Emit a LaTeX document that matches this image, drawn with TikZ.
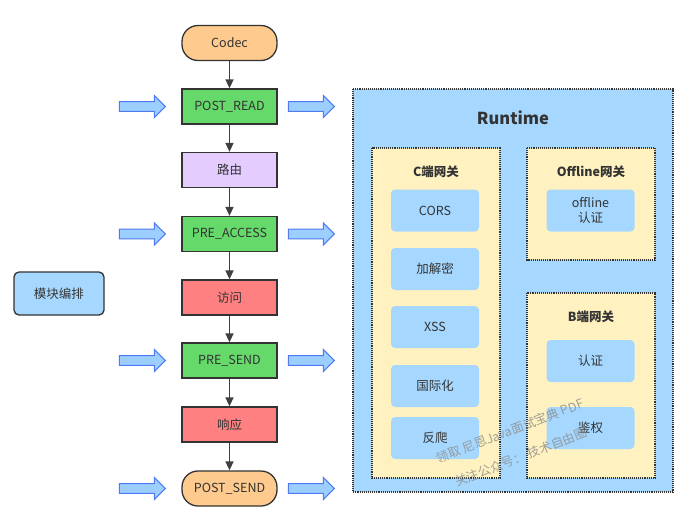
\documentclass[tikz,border=0pt]{standalone}
\usepackage{fontspec}
\setmainfont{Noto Sans CJK SC}
\usetikzlibrary{arrows.meta,shapes.arrows}
\definecolor{txt}{HTML}{333333}
\definecolor{edge}{HTML}{333333}
\definecolor{orng}{HTML}{FFCA8E}
\definecolor{grn}{HTML}{66D96B}
\definecolor{purp}{HTML}{E5CCFF}
\definecolor{redc}{HTML}{FF8080}
\definecolor{blu}{HTML}{A6D8FF}
\definecolor{yel}{HTML}{FFF2C0}
\definecolor{arrfill}{HTML}{9CCEFF}
\definecolor{arrdraw}{HTML}{4D7BF3}
\definecolor{conn}{HTML}{404040}
\tikzset{
  base/.style={font=\fontsize{12.5}{14}\selectfont, text=txt},
  flowbox/.style={base, draw=edge, line width=1.3pt, minimum width=95pt, minimum height=35pt, inner sep=0pt},
  pill/.style={flowbox, rounded corners=16pt, fill=orng},
  greenbox/.style={flowbox, fill=grn},
  purplebox/.style={flowbox, fill=purp},
  redbox/.style={flowbox, fill=redc},
  flowarrow/.style={draw=conn, line width=1.5pt, -{Triangle[length=9pt,width=8pt]}},
  blockarrow/.style={single arrow, draw=arrdraw, fill=arrfill, line width=1pt, minimum height=46pt, inner sep=4.3pt, single arrow head extend=6.3pt, single arrow tip angle=90},
  group/.style={draw=edge, densely dotted, line width=1.1pt},
  itembox/.style={base, fill=blu, rounded corners=4pt, minimum width=88pt, minimum height=42pt, inner sep=0pt, align=center, text=txt},
  gtitle/.style={font=\fontsize{12.5}{14}\selectfont\bfseries, text=txt},
  wm/.style={font=\fontsize{12.5}{14}\selectfont, text=black!45, opacity=0.8, rotate=21}
}
\begin{document}
\begin{tikzpicture}[x=1pt,y=-1pt]
\useasboundingbox (0,0) rectangle (683,520);
\fill[white] (0,0) rectangle (683,520);

% left module box
\node[base, draw=edge, line width=1.3pt, fill=blu, rounded corners=5pt, minimum width=90pt, minimum height=43pt] (mod) at (59,293.5) {模块编排};

% flow
\node[pill] (codec) at (229.5,43) {Codec};
\node[greenbox] (postread) at (229.5,106.5) {POST\_READ};
\node[purplebox] (route) at (229.5,170) {路由};
\node[greenbox] (preaccess) at (229.5,234) {PRE\_ACCESS};
\node[redbox] (access) at (229.5,297.5) {访问};
\node[greenbox] (presend) at (229.5,360.5) {PRE\_SEND};
\node[redbox] (resp) at (229.5,424.5) {响应};
\node[pill] (postsend) at (229.5,488.5) {POST\_SEND};

\draw[flowarrow] (codec) -- (postread);
\draw[flowarrow] (postread) -- (route);
\draw[flowarrow] (route) -- (preaccess);
\draw[flowarrow] (preaccess) -- (access);
\draw[flowarrow] (access) -- (presend);
\draw[flowarrow] (presend) -- (resp);
\draw[flowarrow] (resp) -- (postsend);

% block arrows
\foreach \n/\y in {a/106.5,b/234,c/360.5,d/488.5}{
  \node[blockarrow] (in\n) at (140,\y) {};
  \node[blockarrow] (out\n) at (309,\y) {};
}

% Runtime
\draw[group, fill=blu] (353,89) rectangle (673,492);
\node[font=\fontsize{16.5}{18}\selectfont\bfseries, text=txt] (runtime) at (513,118) {Runtime};

\draw[group, fill=yel] (372,148) rectangle (500,478);
\node[gtitle] (ctitle) at (436,172) {C端网关};
\node[itembox] (cors) at (435,210.5) {CORS};
\node[itembox] (crypt) at (435,269) {加解密};
\node[itembox] (xss) at (435,327) {XSS};
\node[itembox] (i18n) at (435,386) {国际化};
\node[itembox] (anti) at (435,438) {反爬};

\draw[group, fill=yel] (527,148) rectangle (655,260);
\node[gtitle] (otitle) at (591,172) {Offline网关};
\node[itembox, font=\fontsize{12.5}{15}\selectfont] (oauth) at (590.5,210.5) {offline\\认证};

\draw[group, fill=yel] (527,293) rectangle (655,478);
\node[gtitle] (btitle) at (591,317) {B端网关};
\node[itembox] (bauth) at (590.5,361) {认证};
\node[itembox] (bperm) at (590.5,428) {鉴权};

% watermark
\node[wm] (wm1) at (510,431) {领取 尼恩Java面试宝典 PDF};
\node[wm] (wm2) at (521,457) {关注公众号：\ 技术自由圈};
\end{tikzpicture}
\end{document}
